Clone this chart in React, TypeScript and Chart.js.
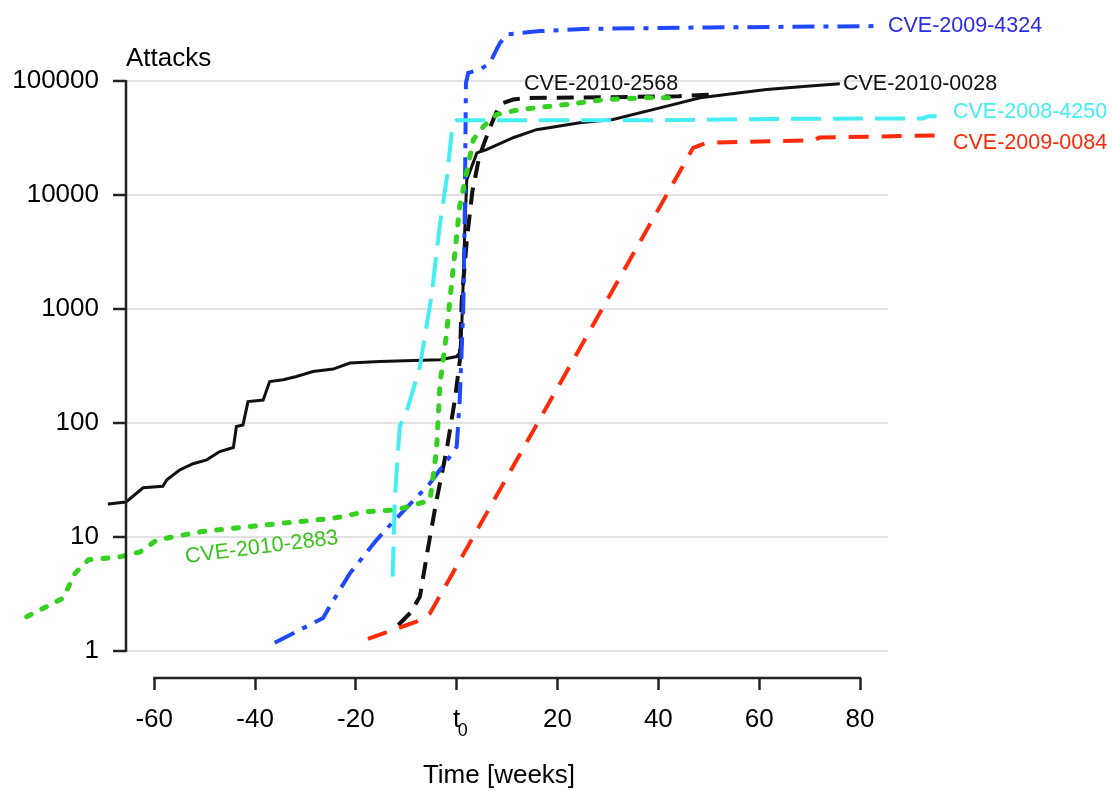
import React, { useEffect, useRef } from "react";
import { Chart, registerables } from "chart.js";

Chart.register(...registerables);

// ---- axis ticks & range ----
const xTickValues = [-60, -40, -20, 0, 20, 40, 60, 80];
const yTickValues = [1, 10, 100, 1000, 10000, 100000];
const xRange = [-65.6, 85.55];

// ---- series: CVE-2010-0028 (black solid) ----
const cve20100028Weeks = [-69.2, -65.6, -62.2, -58.3, -57.5, -54.9, -52.3, -49.6, -47.0, -44.3, -43.7, -42.4, -41.4, -38.4, -37.1, -34.4, -31.8, -28.5, -24.5, -21.2, -15.2, -8.6, -3.3, 0, 0.6, 1.0, 1.3, 1.6, 2.0, 4.0, 5.9, 11.2, 15.8, 24.4, 31.0, 42.9, 48.3, 56.2, 61.5, 69.4, 76.0];
const cve20100028Attacks = [19.5, 20.3, 27, 27.9, 31.7, 38.8, 43.9, 47.5, 56.2, 61, 93, 96, 154, 159, 231, 240, 256, 283, 297, 336, 347, 354, 359, 383, 413, 700, 1800, 5000, 13650, 23400, 25000, 31800, 37400, 43000, 45900, 62000, 71200, 78800, 84200, 90100, 94500];

// ---- series: CVE-2010-2568 (black dashed) ----
const cve20102568Weeks = [-11.6, -9.2, -7.3, -5.65, -4.0, -2.0, -0.36, 0.63, 1.0, 2.0, 3.1, 4.5, 6.45, 8.0, 9.2, 11.2, 14, 30, 44, 50.2];
const cve20102568Attacks = [1.69, 2.16, 3.0, 8.2, 21, 58, 160, 359, 1200, 4000, 10700, 22000, 37500, 55000, 64000, 68800, 71000, 72000, 73500, 76000];

// ---- series: CVE-2009-4324 (blue dash-dot) ----
const cve20094324Weeks = [-36.1, -26.5, -25.2, -21.2, -15.9, -12.9, -5.3, -1.35, 0, 0.6, 1.3, 1.6, 1.83, 2.3, 4.6, 6.6, 7.9, 8.6, 9.9, 16.5, 26.4, 50, 82.9];
const cve20094324Attacks = [1.18, 1.95, 2.45, 4.8, 9.4, 13.2, 29.6, 50.8, 62, 160, 1000, 7000, 96000, 118000, 126000, 144000, 189000, 216000, 256000, 274000, 287000, 295000, 303000];

// ---- series: CVE-2008-4250 (cyan long dash) ----
const cve20084250Weeks = [-12.7, -12.3, -11.3, -9.6, -7.3, -5.0, -3.3, -2.0, -1.0, -0.36, 0, 40, 65.4, 92.5, 93.5, 95.2];
const cve20084250Attacks = [4.5, 21, 93, 140, 313, 1300, 5690, 13650, 35000, 44400, 45300, 45300, 46600, 47000, 49000, 49000];

// ---- series: CVE-2009-0084 (red dashed) ----
const cve20090084Weeks = [-17.6, -8.0, -5.3, 46.9, 49.6, 70.7, 72.0, 95.8];
const cve20090084Attacks = [1.28, 1.81, 2.14, 25900, 28700, 30200, 31900, 33400];

// ---- series: CVE-2010-2883 (green dotted) ----
const cve20102883Weeks = [-85.3, -78.1, -75.7, -73.1, -66.8, -62.8, -59.5, -50.9, -37.7, -24.5, -17.9, -11.9, -5.3, -4.0, -3.3, -2.0, -1.35, 0.6, 1.96, 3.3, 5.3, 7.9, 12.5, 21.8, 29.7, 37.7, 44.3];
const cve20102883Attacks = [2.0, 2.9, 4.8, 6.3, 6.7, 7.4, 9.4, 11.1, 12.8, 14.6, 16.7, 17.3, 21, 58, 224, 616, 1200, 8000, 15600, 30600, 39900, 50800, 56200, 62200, 69000, 71300, 71300];

const FONT = "'Liberation Sans', Arial, Helvetica, sans-serif";

const BLACK = "#111111";
const BLUE_LINE = "#1f48ff";
const BLUE_TEXT = "#2a2ae6";
const CYAN = "#44eef2";
const RED = "#ff2a0a";
const GREEN_LINE = "#35d020";
const GREEN_TEXT = "#3cc21e";

const toPoints = (w: number[], a: number[]) => w.map((x, i) => ({ x, y: a[i] }));

const overlayPlugin = {
  id: "overlay",
  afterDraw(chart: any) {
    const ctx = chart.ctx as CanvasRenderingContext2D;
    const xs = chart.scales.x;
    const ys = chart.scales.y;
    const area = chart.chartArea;
    ctx.save();
    // axis lines
    ctx.strokeStyle = "#222";
    ctx.lineWidth = 2.5;
    ctx.lineCap = "butt";
    ctx.beginPath();
    ctx.moveTo(area.left, ys.getPixelForValue(yTickValues[yTickValues.length - 1]) - 1);
    ctx.lineTo(area.left, ys.getPixelForValue(yTickValues[0]) + 1);
    ctx.stroke();
    ctx.beginPath();
    ctx.moveTo(xs.getPixelForValue(xTickValues[0]) - 1, area.bottom);
    ctx.lineTo(xs.getPixelForValue(xTickValues[xTickValues.length - 1]) + 1, area.bottom);
    ctx.stroke();

    // subscript of the t0 tick label
    ctx.fillStyle = "#000";
    ctx.font = `18px ${FONT}`;
    ctx.textBaseline = "alphabetic";
    ctx.textAlign = "left";
    ctx.fillText("0", xs.getPixelForValue(0) + 1, 736);

    // axis titles
    ctx.font = `26px ${FONT}`;
    ctx.fillText("Attacks", 126, 66);
    ctx.textAlign = "center";
    ctx.fillText("Time [weeks]", 499, 783);

    // series labels
    ctx.font = `21.5px ${FONT}`;
    ctx.textAlign = "left";
    const labels: [string, string, number, number][] = [
      ["CVE-2009-4324", BLUE_TEXT, 888, 32],
      ["CVE-2010-0028", BLACK, 843, 90],
      ["CVE-2008-4250", CYAN, 953, 118],
      ["CVE-2009-0084", RED, 953, 149],
      ["CVE-2010-2568", BLACK, 524, 90],
    ];
    for (const [t, c, x, y] of labels) {
      ctx.fillStyle = c;
      ctx.fillText(t, x, y);
    }
    ctx.save();
    ctx.translate(186, 563);
    ctx.rotate((-7.2 * Math.PI) / 180);
    ctx.fillStyle = GREEN_TEXT;
    ctx.fillText("CVE-2010-2883", 0, 0);
    ctx.restore();
    ctx.restore();
  },
};

export default function App() {
  const ref = useRef<HTMLCanvasElement>(null);
  useEffect(() => {
    if (!ref.current) return;
    const common = { pointRadius: 0, tension: 0, clip: false as any, fill: false };
    const chart = new Chart(ref.current, {
      type: "line",
      data: {
        datasets: [
          { ...common, label: "CVE-2010-2883", data: toPoints(cve20102883Weeks, cve20102883Attacks), borderColor: GREEN_LINE, borderWidth: 5, borderDash: [5, 12], borderCapStyle: "round" },
          { ...common, label: "CVE-2008-4250", data: toPoints(cve20084250Weeks, cve20084250Attacks), borderColor: CYAN, borderWidth: 4, borderDash: [30, 12] },
          { ...common, label: "CVE-2009-0084", data: toPoints(cve20090084Weeks, cve20090084Attacks), borderColor: RED, borderWidth: 4, borderDash: [20, 13] },
          { ...common, label: "CVE-2009-4324", data: toPoints(cve20094324Weeks, cve20094324Attacks), borderColor: BLUE_LINE, borderWidth: 4, borderDash: [22, 9, 5, 9] },
          { ...common, label: "CVE-2010-2568", data: toPoints(cve20102568Weeks, cve20102568Attacks), borderColor: BLACK, borderWidth: 4, borderDash: [17, 10] },
          { ...common, label: "CVE-2010-0028", data: toPoints(cve20100028Weeks, cve20100028Attacks), borderColor: BLACK, borderWidth: 3 },
        ],
      },
      options: {
        animation: false,
        responsive: false,
        events: [],
        layout: { padding: { left: 0, right: 227, top: 81, bottom: 0 } },
        scales: {
          x: {
            type: "linear",
            bounds: "data",
            afterDataLimits: (s: any) => { s.min = xRange[0]; s.max = xRange[1]; },
            afterFit: (s: any) => { s.height = 113; },
            afterBuildTicks: (s: any) => { s.ticks = xTickValues.map((v) => ({ value: v })); },
            ticks: {
              autoSkip: false,
              maxRotation: 0,
              padding: 14,
              color: "#000",
              font: { size: 26, family: FONT },
              callback: (v: any) => (Number(v) === 0 ? "t" : String(v)),
            },
            grid: { drawOnChartArea: false, drawTicks: true, tickLength: 12, tickColor: "#222", tickWidth: 2.5 },
            border: { display: false },
          },
          y: {
            type: "logarithmic",
            bounds: "data",
            min: 0.5797,
            max: 100000,
            afterFit: (s: any) => { s.width = 126; },
            afterBuildTicks: (s: any) => { s.ticks = yTickValues.map((v) => ({ value: v })); },
            ticks: {
              autoSkip: false,
              padding: 14,
              color: "#000",
              font: { size: 26, family: FONT },
              callback: (v: any) => String(v),
            },
            grid: { color: "#e2e2e2", lineWidth: 2, drawTicks: true, tickLength: 13, tickColor: "#222", tickWidth: 2.5 },
            border: { display: false },
          },
        },
        plugins: { legend: { display: false }, tooltip: { enabled: false } },
      } as any,
      plugins: [overlayPlugin],
    });
    return () => chart.destroy();
  }, []);
  return (
    <div style={{ position: "fixed", left: 0, top: 0, width: 1115, height: 791, background: "#fff" }}>
      <canvas ref={ref} width={1115} height={791} style={{ display: "block", width: 1115, height: 791 }} />
    </div>
  );
}
